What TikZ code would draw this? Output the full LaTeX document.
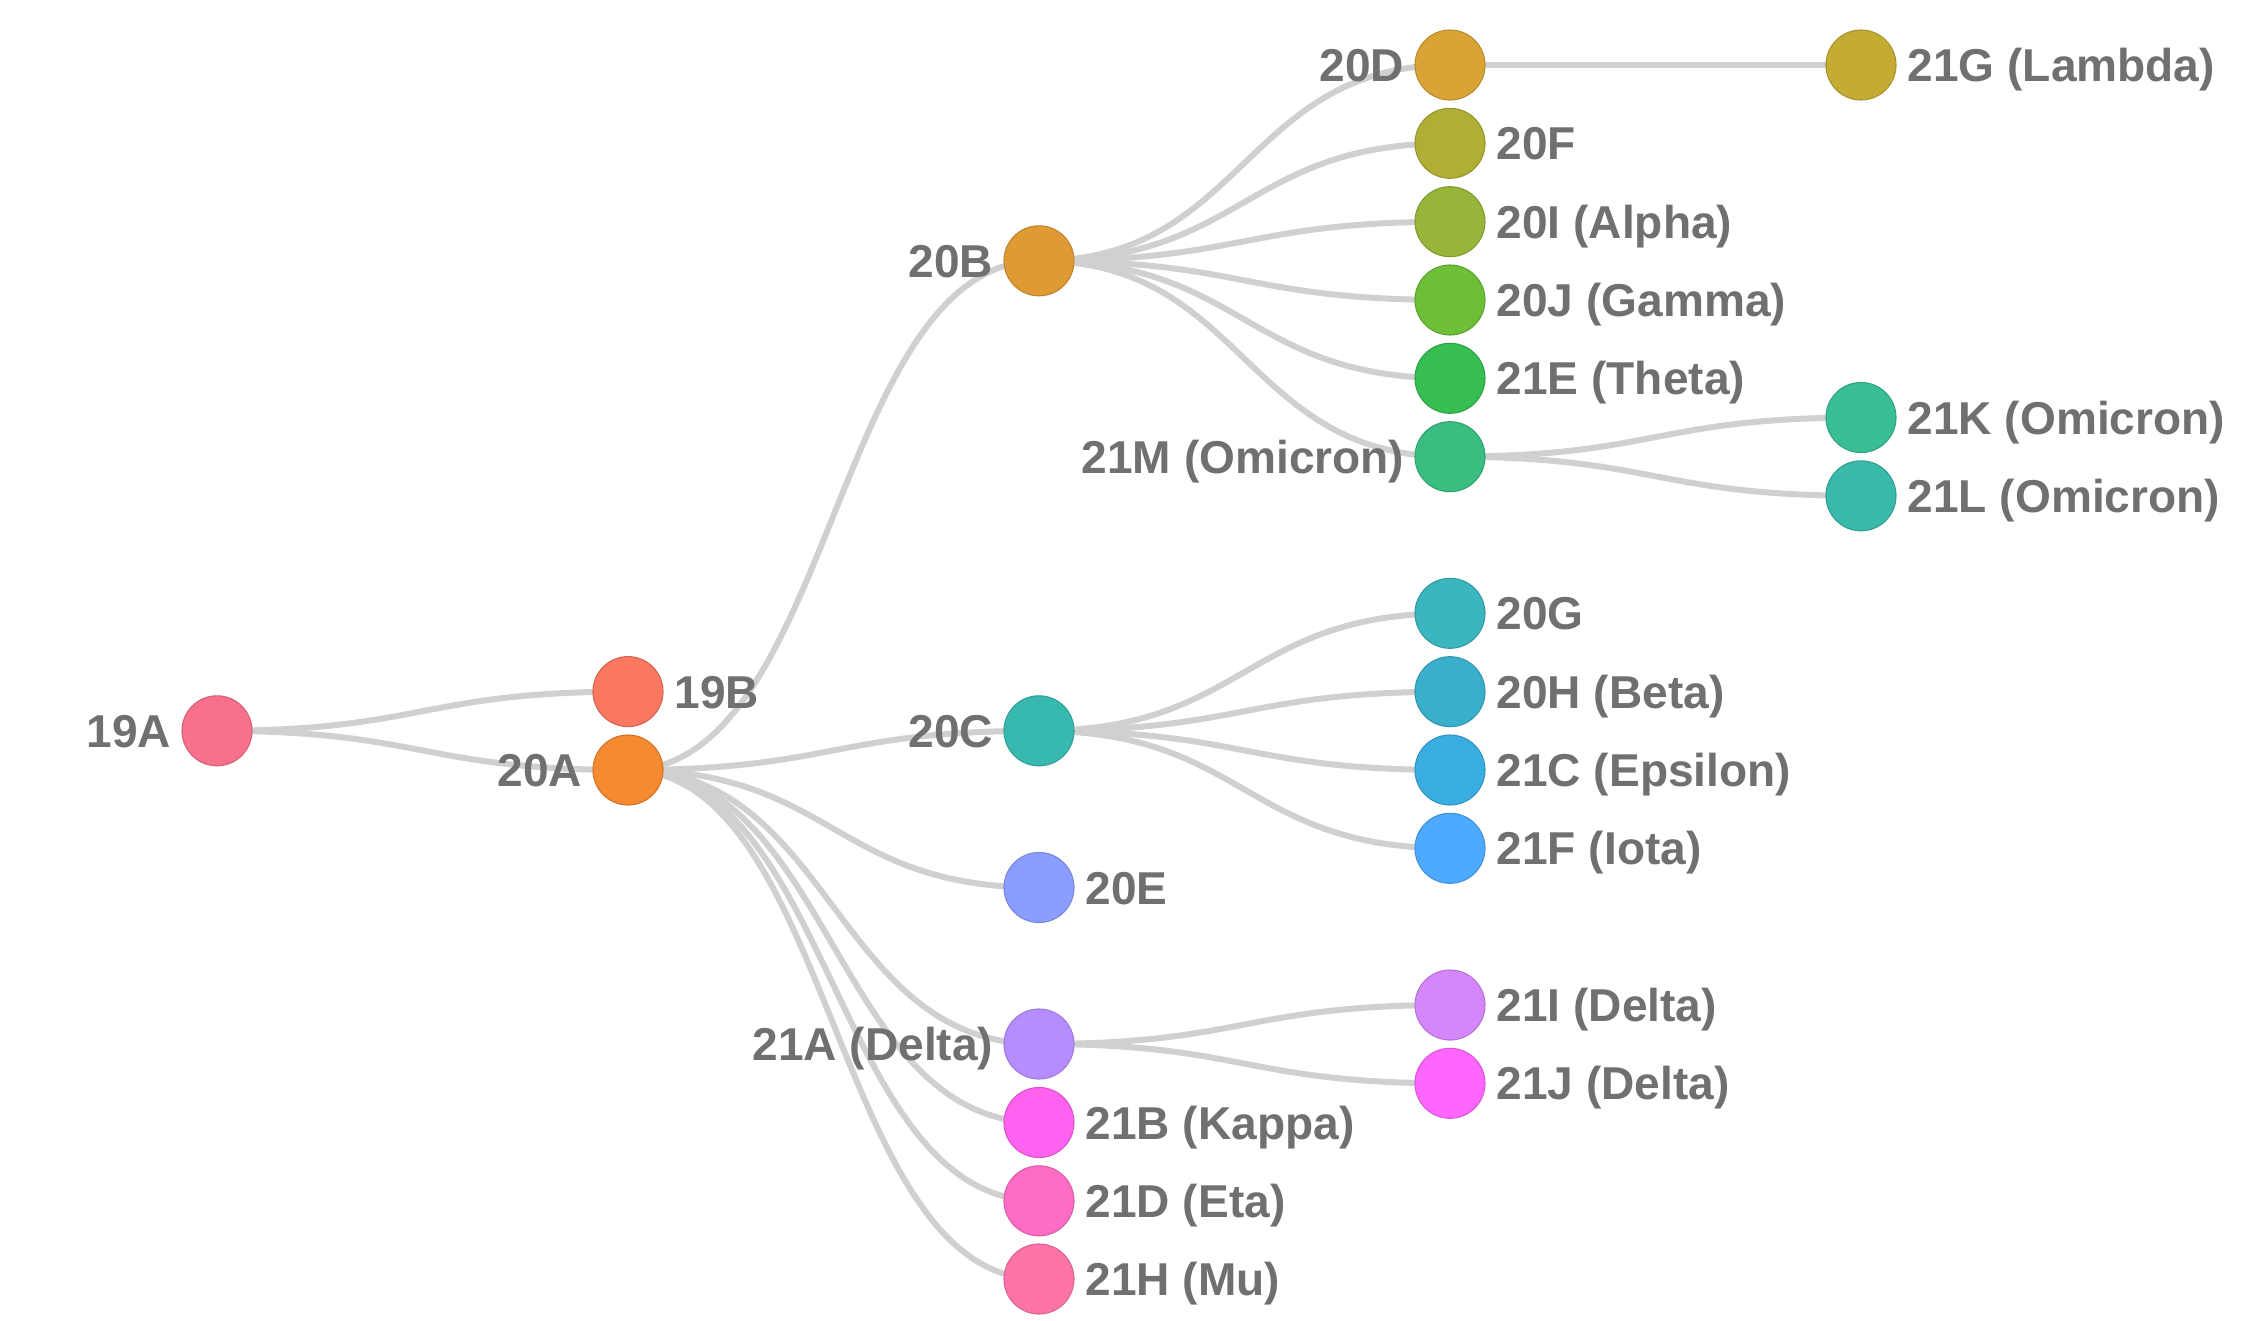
\documentclass[tikz,border=0pt]{standalone}
\usepackage{fontspec}
\setmainfont{Liberation Sans}
\usetikzlibrary{calc}
\pgfdeclarelayer{bg}
\pgfsetlayers{bg,main}
\definecolor{c19A}{HTML}{F7718C}
\definecolor{c19B}{HTML}{FA7760}
\definecolor{c20A}{HTML}{F58A30}
\definecolor{c20B}{HTML}{E09A35}
\definecolor{c20D}{HTML}{D9A435}
\definecolor{c21G}{HTML}{C4AC34}
\definecolor{c20F}{HTML}{B0AE35}
\definecolor{c20I}{HTML}{97B538}
\definecolor{c20J}{HTML}{6CBF37}
\definecolor{c21E}{HTML}{36BE52}
\definecolor{c21M}{HTML}{3ABD80}
\definecolor{c21K}{HTML}{3ABE96}
\definecolor{c21L}{HTML}{3ABAAB}
\definecolor{c20C}{HTML}{38B9B0}
\definecolor{c20G}{HTML}{3BB5BE}
\definecolor{c20H}{HTML}{39AFCC}
\definecolor{c21C}{HTML}{3AAEE3}
\definecolor{c21F}{HTML}{4DAAFF}
\definecolor{c20E}{HTML}{8B9EFF}
\definecolor{c21A}{HTML}{B68DFF}
\definecolor{c21I}{HTML}{D586FB}
\definecolor{c21J}{HTML}{FF66FF}
\definecolor{c21B}{HTML}{FF62EE}
\definecolor{c21D}{HTML}{FF6CC6}
\definecolor{c21H}{HTML}{FF74A8}
\definecolor{edgegray}{HTML}{D0D0D0}
\definecolor{txtgray}{HTML}{707070}
\tikzset{
  dot/.style={circle, inner sep=0pt, minimum size=0.70cm, line width=0.3pt, fill=#1, draw=#1!85!black},
  lbl/.style={inner sep=0pt, text=txtgray, font=\fontsize{13.1pt}{15pt}\selectfont\bfseries},
  lblR/.style={lbl, anchor=base west, xshift=0.46cm, yshift=-0.165cm},
  lblL/.style={lbl, anchor=base east, xshift=-0.45cm, yshift=-0.165cm},
  edge/.style={draw=edgegray, line width=0.06cm}
}
\newcommand\lnk[2]{\draw[edge] let \p1=(#1.center), \p2=(#2.center) in (\p1) .. controls ({(\x1+\x2)/2},\y1) and ({(\x1+\x2)/2},\y2) .. (\p2);}
\begin{document}
\begin{tikzpicture}[x=0.01cm, y=-0.01cm]
\begin{pgfonlayer}{bg}
\fill[white] (0,0) rectangle (2268,1321);
\end{pgfonlayer}
\useasboundingbox (0,0) rectangle (2268,1321);
% nodes (circles)
\node[dot=c19A] (n19A) at (217,730.8) {};
\node[dot=c19B] (n19B) at (628,691.6) {};
\node[dot=c20A] (n20A) at (628,770) {};
\node[dot=c20B] (n20B) at (1039,260.8) {};
\node[dot=c20C] (n20C) at (1039,730.8) {};
\node[dot=c20E] (n20E) at (1039,887.5) {};
\node[dot=c21A] (n21A) at (1039,1044) {};
\node[dot=c21B] (n21B) at (1039,1122.5) {};
\node[dot=c21D] (n21D) at (1039,1200.8) {};
\node[dot=c21H] (n21H) at (1039,1279) {};
\node[dot=c20D] (n20D) at (1450,65) {};
\node[dot=c20F] (n20F) at (1450,143.3) {};
\node[dot=c20I] (n20I) at (1450,221.7) {};
\node[dot=c20J] (n20J) at (1450,300) {};
\node[dot=c21E] (n21E) at (1450,378.3) {};
\node[dot=c21M] (n21M) at (1450,456.7) {};
\node[dot=c20G] (n20G) at (1450,613.3) {};
\node[dot=c20H] (n20H) at (1450,691.7) {};
\node[dot=c21C] (n21C) at (1450,770) {};
\node[dot=c21F] (n21F) at (1450,848.3) {};
\node[dot=c21I] (n21I) at (1450,1005) {};
\node[dot=c21J] (n21J) at (1450,1083.3) {};
\node[dot=c21G] (n21G) at (1861,65) {};
\node[dot=c21K] (n21K) at (1861,417.5) {};
\node[dot=c21L] (n21L) at (1861,495.8) {};
% edges (behind circles)
\begin{pgfonlayer}{bg}
\lnk{n19A}{n19B}
\lnk{n19A}{n20A}
\lnk{n20A}{n20B}
\lnk{n20A}{n20C}
\lnk{n20A}{n20E}
\lnk{n20A}{n21A}
\lnk{n20A}{n21B}
\lnk{n20A}{n21D}
\lnk{n20A}{n21H}
\lnk{n20B}{n20D}
\lnk{n20B}{n20F}
\lnk{n20B}{n20I}
\lnk{n20B}{n20J}
\lnk{n20B}{n21E}
\lnk{n20B}{n21M}
\lnk{n20D}{n21G}
\lnk{n21M}{n21K}
\lnk{n21M}{n21L}
\lnk{n20C}{n20G}
\lnk{n20C}{n20H}
\lnk{n20C}{n21C}
\lnk{n20C}{n21F}
\lnk{n21A}{n21I}
\lnk{n21A}{n21J}
\end{pgfonlayer}
% labels
\node[lblL] (l19A) at (n19A.center) {19A};
\node[lblR] (l19B) at (n19B.center) {19B};
\node[lblL] (l20A) at (n20A.center) {20A};
\node[lblL] (l20B) at (n20B.center) {20B};
\node[lblL] (l20C) at (n20C.center) {20C};
\node[lblR] (l20E) at (n20E.center) {20E};
\node[lblL] (l21A) at (n21A.center) {21A (Delta)};
\node[lblR] (l21B) at (n21B.center) {21B (Kappa)};
\node[lblR] (l21D) at (n21D.center) {21D (Eta)};
\node[lblR] (l21H) at (n21H.center) {21H (Mu)};
\node[lblL] (l20D) at (n20D.center) {20D};
\node[lblR] (l20F) at (n20F.center) {20F};
\node[lblR] (l20I) at (n20I.center) {20I (Alpha)};
\node[lblR] (l20J) at (n20J.center) {20J (Gamma)};
\node[lblR] (l21E) at (n21E.center) {21E (Theta)};
\node[lblL] (l21M) at (n21M.center) {21M (Omicron)};
\node[lblR] (l20G) at (n20G.center) {20G};
\node[lblR] (l20H) at (n20H.center) {20H (Beta)};
\node[lblR] (l21C) at (n21C.center) {21C (Epsilon)};
\node[lblR] (l21F) at (n21F.center) {21F (Iota)};
\node[lblR] (l21I) at (n21I.center) {21I (Delta)};
\node[lblR] (l21J) at (n21J.center) {21J (Delta)};
\node[lblR] (l21G) at (n21G.center) {21G (Lambda)};
\node[lblR] (l21K) at (n21K.center) {21K (Omicron)};
\node[lblR] (l21L) at (n21L.center) {21L (Omicron)};
\end{tikzpicture}
\end{document}
